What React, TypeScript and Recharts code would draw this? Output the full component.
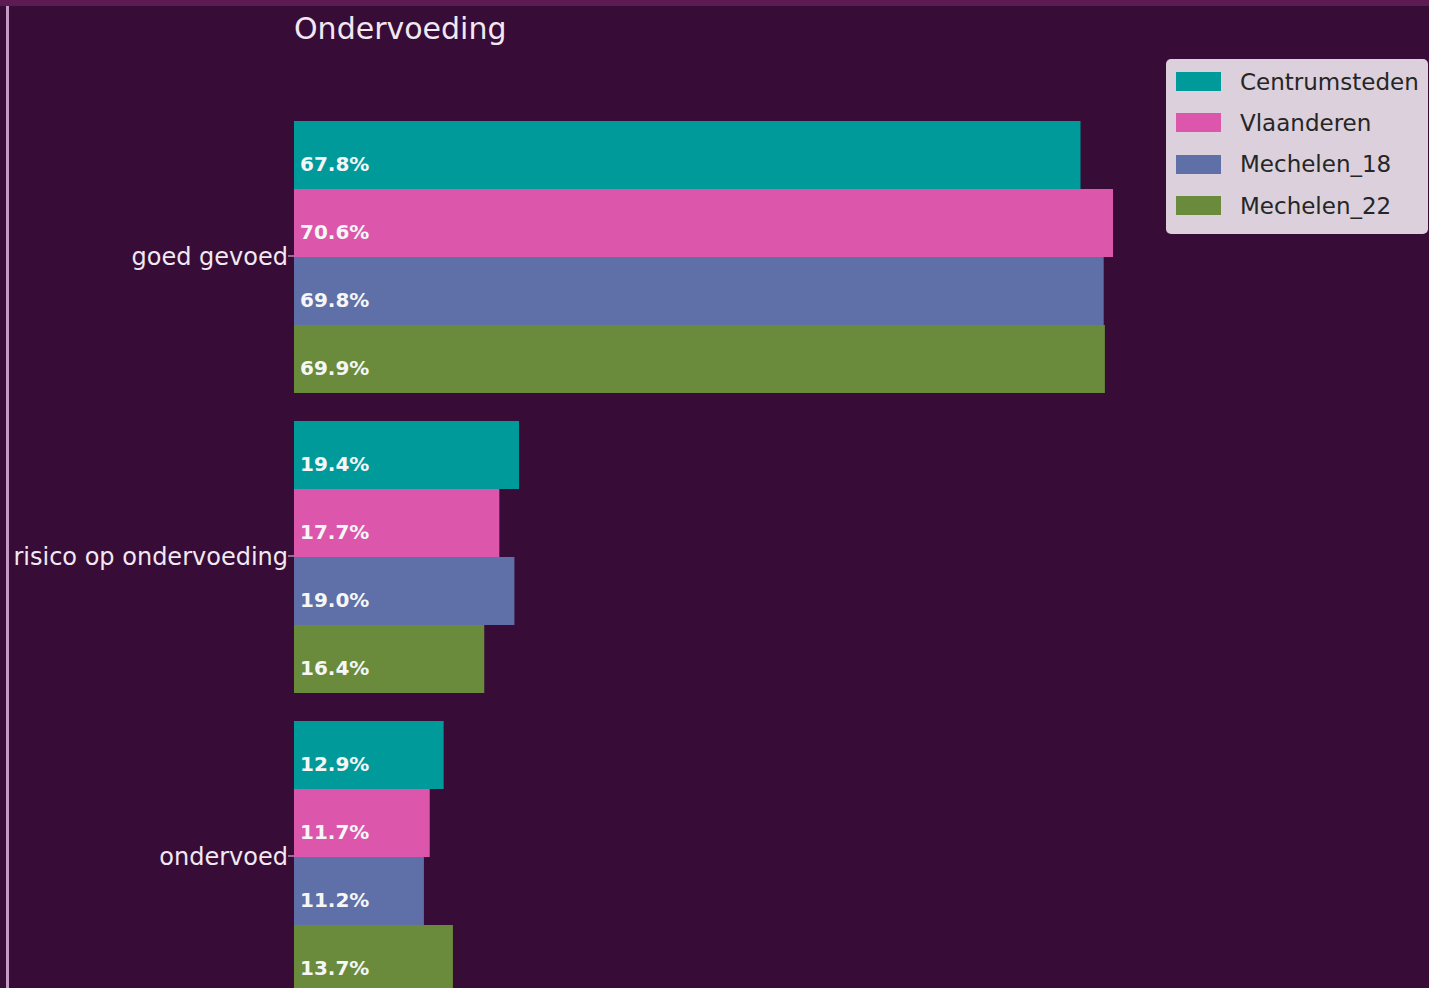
import React from "react";
import { BarChart, Bar, XAxis, YAxis, LabelList } from "recharts";

const categories = ["goed gevoed", "risico op ondervoeding", "ondervoed"];
const centrumsteden = [67.8, 19.4, 12.9];
const vlaanderen = [70.6, 17.7, 11.7];
const mechelen18 = [69.8, 19.0, 11.2];
const mechelen22 = [69.9, 16.4, 13.7];

const seriesNames = ["Centrumsteden", "Vlaanderen", "Mechelen_18", "Mechelen_22"];
const seriesKeys = ["c", "v", "m18", "m22"];
const seriesColors = ["#009a9a", "#dc56ab", "#5f6fa7", "#6a8b3c"];

const X_MAX = 97.84;

const data = categories.map((name, i) => ({
  name,
  c: centrumsteden[i],
  v: vlaanderen[i],
  m18: mechelen18[i],
  m22: mechelen22[i],
}));

const BG = "#370c37";
const FONT = "'DejaVu Sans', sans-serif";

const renderValueLabel = (props: any) => {
  const { x, y, height, value } = props;
  return (
    <text
      x={x + 6}
      y={y + height / 2 + 9}
      fill="#f6f6f6"
      fontSize={20}
      fontWeight="bold"
      fontFamily={FONT}
      dominantBaseline="central"
      textAnchor="start"
    >
      {Number(value).toFixed(1)}%
    </text>
  );
};

const LegendBox = () => (
  <div
    style={{
      position: "absolute",
      left: 1166,
      top: 59,
      width: 262,
      height: 175,
      boxSizing: "border-box",
      background: "#dbd0db",
      borderRadius: 5,
      paddingTop: 2,
      fontFamily: FONT,
    }}
  >
    {seriesNames.map((n, i) => (
      <div
        key={n}
        style={{ display: "flex", alignItems: "center", height: 41.3 }}
      >
        <div
          style={{
            marginLeft: 10,
            width: 45,
            height: 19,
            background: seriesColors[i],
          }}
        />
        <span
          style={{
            marginLeft: 19,
            fontSize: 23,
            color: "#262626",
            whiteSpace: "nowrap",
          }}
        >
          {n}
        </span>
      </div>
    ))}
  </div>
);

export default function App() {
  return (
    <div
      style={{
        position: "absolute",
        left: 0,
        top: 0,
        width: 1429,
        height: 988,
        overflow: "hidden",
        background: BG,
      }}
    >
      <div
        style={{
          position: "absolute",
          left: 0,
          top: 0,
          width: 1429,
          height: 6,
          background: "#5e1a53",
        }}
      />
      <div
        style={{
          position: "absolute",
          left: 6,
          top: 6,
          width: 3,
          height: 982,
          background: "#c39ac3",
        }}
      />
      <div
        style={{
          position: "absolute",
          left: 294,
          top: 7,
          fontFamily: FONT,
          fontSize: 30,
          lineHeight: "44px",
          color: "#f2e8f2",
          whiteSpace: "nowrap",
        }}
      >
        Ondervoeding
      </div>
      <div style={{ position: "absolute", left: 0, top: 0 }}>
        <BarChart
          width={1429}
          height={1010}
          data={data}
          layout="vertical"
          margin={{ top: 106, right: 0, bottom: 4, left: 0 }}
          barCategoryGap={15}
          barGap={0}
        >
          <XAxis type="number" domain={[0, X_MAX]} hide />
          <YAxis
            type="category"
            dataKey="name"
            width={294}
            axisLine={false}
            tickSize={6}
            tickMargin={0}
            tickLine={{ stroke: "#e0d4e0", strokeWidth: 1 }}
            tick={{ fill: "#f2e8f2", fontSize: 24, fontFamily: FONT }}
          />
          {seriesKeys.map((k, i) => (
            <Bar
              key={k}
              dataKey={k}
              name={seriesNames[i]}
              fill={seriesColors[i]}
              isAnimationActive={false}
            >
              <LabelList dataKey={k} content={renderValueLabel} />
            </Bar>
          ))}
        </BarChart>
      </div>
      <LegendBox />
    </div>
  );
}
